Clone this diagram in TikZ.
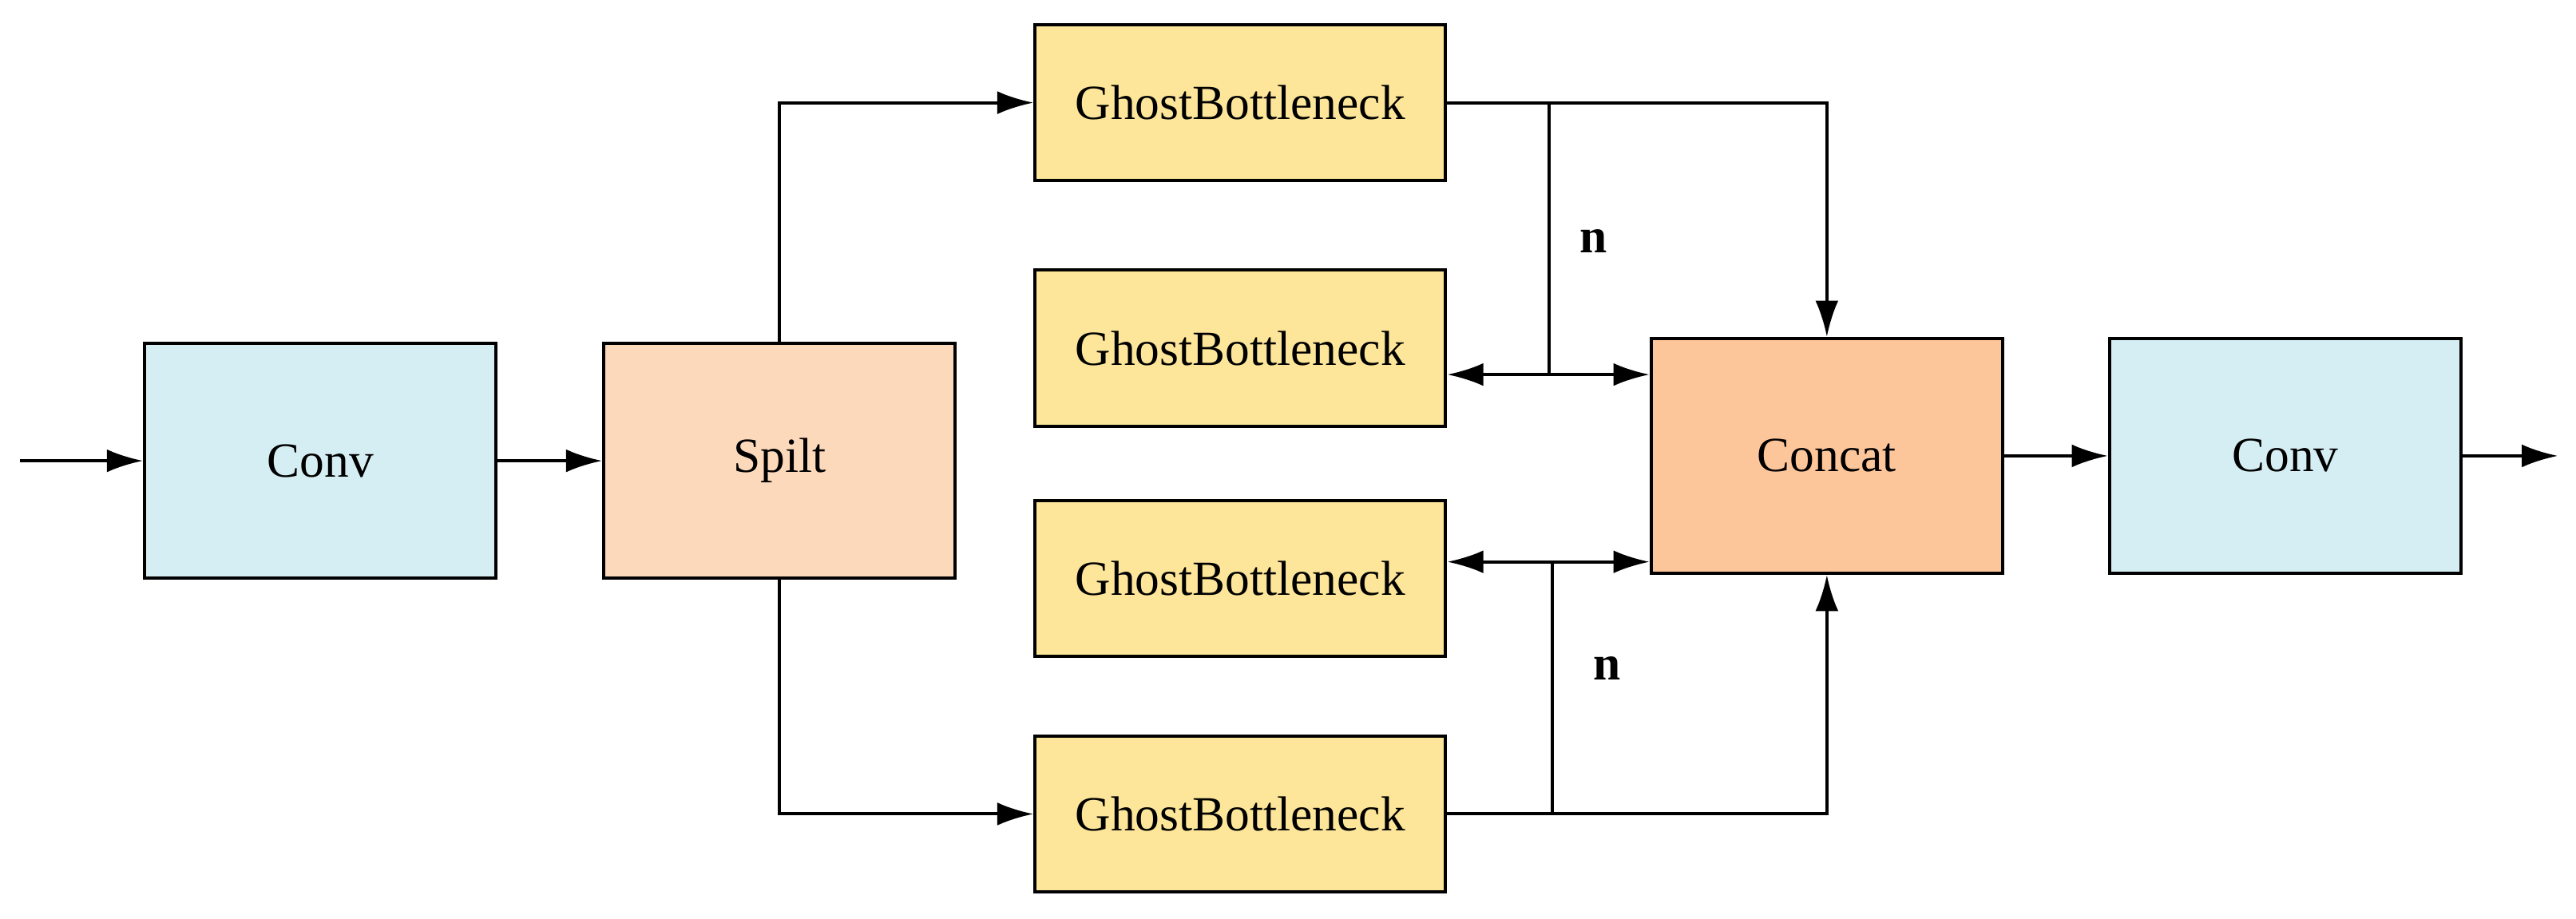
\documentclass[tikz,border=0pt]{standalone}
\usepackage{fontspec}
\setmainfont{Liberation Serif}
\usetikzlibrary{arrows.meta}
\definecolor{cblue}{HTML}{D5EEF3}
\definecolor{cspl}{HTML}{FDD9BC}
\definecolor{cgb}{HTML}{FDE699}
\definecolor{ccat}{HTML}{FDC59A}
\begin{document}
\begin{tikzpicture}[x=0.02cm,y=-0.02cm,
  box/.style={draw,line width=1.1pt,font=\fontsize{17}{20}\selectfont,inner sep=0pt},
  big/.style={box,minimum width=4.28cm,minimum height=2.86cm},
  gb/.style={box,fill=cgb,minimum width=5.0cm,minimum height=1.9cm},
  ln/.style={line width=1.1pt},
  ar/.style={ln,-{Latex[length=0.44cm,width=0.28cm]}},
  lbl/.style={font=\bfseries\fontsize{17}{20}\selectfont}]
\useasboundingbox (0,0) rectangle (1568,559);
\node[big,fill=cblue] (conv1) at (195,280.5) {Conv};
\node[big,fill=cspl] (spilt) at (474.5,280.5) {Spilt};
\node[gb] (gb1) at (755,62.5) {GhostBottleneck};
\node[gb] (gb2) at (755,212) {GhostBottleneck};
\node[gb] (gb3) at (755,352) {GhostBottleneck};
\node[gb] (gb4) at (755,495.5) {GhostBottleneck};
\node[big,fill=ccat] (concat) at (1112,277.5) {Concat};
\node[big,fill=cblue] (conv2) at (1391,277.5) {Conv};
\coordinate (in) at (12,280.5);
\coordinate (out) at (1557,277.5);
\coordinate (j1) at (943,62.5);
\coordinate (j2) at (943,228);
\coordinate (j3) at (945,342);
\coordinate (j4) at (945,495.5);
\draw[ar] (in) -- (conv1);
\draw[ar] (conv1) -- (spilt);
\draw[ar] (conv2.east) -- (out);
\draw[ar] (concat) -- (conv2);
\draw[ar] (spilt.north) |- (gb1.west);
\draw[ar] (spilt.south) |- (gb4.west);
\draw[ar] (gb1.east) -| (concat.north);
\draw[ar] (gb4.east) -| (concat.south);
\draw[ln] (j1) -- (j2);
\draw[ar] (j2) -- (gb2.east |- j2);
\draw[ar] (j2) -- (concat.west |- j2);
\draw[ln] (j3) -- (j4);
\draw[ar] (j3) -- (gb3.east |- j3);
\draw[ar] (j3) -- (concat.west |- j3);
\node[lbl] (n1) at (970,147) {n};
\node[lbl] (n2) at (978,407) {n};
\end{tikzpicture}
\end{document}
